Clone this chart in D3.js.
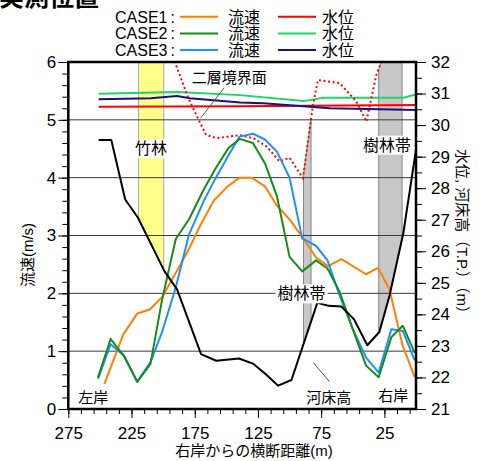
<!DOCTYPE html>
<html>
<head>
<meta charset="utf-8">
<script src="https://cdn.jsdelivr.net/npm/d3@7"></script>
<style>
  body { margin: 0; background: #fff; }
  svg { display: block; }
  text { font-family: "Liberation Sans", "Noto Sans CJK JP", Arial, sans-serif; fill: #000; }
</style>
</head>
<body>
<svg id="chart" width="487" height="461"></svg>
<script>
// ---------- data ----------
// river bed elevation (T.P. m) along the cross section, distance from right bank (m)
const bedDist = [251, 241, 230, 220, 199, 189, 170, 158, 140, 129, 119, 109, 98.5, 78, 69, 59, 49, 38.5, 29, 21, 10, 0];
const bedElev = [29.53, 29.53, 27.64, 27.07, 25.37, 24.79, 22.74, 22.53, 22.60, 22.44, 22.11, 21.74, 21.92, 24.37, 24.27, 24.25, 23.84, 23.02, 23.44, 24.58, 26.58, 29.22];

// CASE1 velocity (m/s)
const case1Dist = [246.5, 231.5, 220.5, 210.5, 201, 190, 180, 170, 160, 149, 139.5, 130, 119.5, 110.5, 100, 89.5, 79, 69.5, 59, 39.5, 30, 21, 10.5, 1];
const case1Vel  = [0.43, 1.29, 1.65, 1.72, 1.93, 2.35, 2.75, 3.2, 3.6, 3.85, 4.0, 4.0, 3.85, 3.53, 3.28, 2.96, 2.62, 2.47, 2.59, 2.33, 2.44, 2.07, 1.09, 0.55];

// CASE2 / CASE3 velocity (m/s), same stations
const case23Dist = [251.5, 241.5, 231, 220.5, 210, 201, 190, 179.5, 168, 159, 148.5, 139.5, 129, 119.5, 110, 100, 90, 79, 70, 60.5, 50, 39.5, 29.5, 19.5, 10.5, 1];
const case2Vel = [0.55, 1.21, 0.92, 0.47, 0.78, 1.87, 2.94, 3.28, 3.79, 4.14, 4.51, 4.67, 4.60, 4.25, 3.68, 2.63, 2.38, 2.57, 2.43, 2.03, 1.38, 0.75, 0.55, 1.24, 1.44, 0.97];
const case3Vel = [0.52, 1.12, 0.92, 0.47, 0.81, 1.32, 2.10, 3.02, 3.59, 3.97, 4.38, 4.71, 4.76, 4.66, 4.45, 4.00, 2.95, 2.82, 2.57, 1.97, 1.38, 0.89, 0.63, 1.38, 1.35, 0.84];

// water levels (T.P. m)
const level1Dist = [251, 140, 0];
const level1Elev = [30.58, 30.60, 30.64];
const level2Dist = [251, 189, 139, 89, 73, 36, 10, 0];
const level2Elev = [30.99, 31.05, 30.95, 30.76, 30.87, 30.87, 30.87, 30.97];
const level3Dist = [251, 210, 189, 179, 139, 121, 68, 0];
const level3Elev = [30.82, 30.85, 30.92, 30.85, 30.72, 30.69, 30.53, 30.48];

// two-layer interface elevation (T.P. m)
const ifaceDist = [193.5, 180, 172, 166, 158, 147, 139, 129, 118, 108, 100, 89.4, 81.5, 77.5, 60.4, 47.2, 39.3, 31.4, 24.6];
const ifaceElev = [32.3, 30.85, 30.17, 29.69, 29.59, 29.64, 29.68, 29.59, 29.32, 28.85, 28.96, 28.32, 30.64, 31.43, 31.33, 30.75, 30.11, 31.59, 32.3];

// vegetation zones [from, to] (m)
const bambooZone = [219.5, 199.5];
const forestZones = [[89, 83], [29.5, 11]];

// axis ticks
const xMajorTicks = [275, 225, 175, 125, 75, 25];
const velTicks = [0, 1, 2, 3, 4, 5, 6];
const elevTicks = [21, 22, 23, 24, 25, 26, 27, 28, 29, 30, 31, 32];

const seriesNames = ["CASE1", "CASE2", "CASE3"];
const velColors = ["#ff8000", "#168c16", "#1e8fff"];
const levelColors = ["#ff0000", "#22d36b", "#14147d"];

// ---------- layout ----------
const L = 68.3, R = 416, T = 62, B = 409;
const svg = d3.select("#chart");

const x = d3.scaleLinear().domain([275, 0]).range([L, R]);
const yV = d3.scaleLinear().domain([0, 6]).range([B, T]);
const yE = d3.scaleLinear().domain([21, 32]).range([B, T]);

svg.append("defs").append("clipPath").attr("id", "plotClip")
  .append("rect").attr("x", L).attr("y", T).attr("width", R - L).attr("height", B - T);

const plot = svg.append("g").attr("clip-path", "url(#plotClip)");

// piecewise profiles for shading the vegetation zones
const bedAt = d3.scaleLinear().domain(bedDist).range(bedElev);
const ifaceAt = d3.scaleLinear().domain(ifaceDist).range(ifaceElev);
const ifaceMax = ifaceDist[0], ifaceMin = ifaceDist[ifaceDist.length - 1];

function zonePolygon(d0, d1, useIface) {
  const inside = v => v < d0 && v > d1;
  const ds = [d0, ...bedDist.filter(inside), ...(useIface ? ifaceDist.filter(inside) : []), d1]
    .sort((a, b) => b - a);
  const top = ds.map(d => {
    const e = (useIface && d <= ifaceMax && d >= ifaceMin) ? ifaceAt(d) : 33;
    return [x(d), yE(e)];
  });
  const bottom = ds.slice().reverse().map(d => [x(d), yE(bedAt(d))]);
  return top.concat(bottom);
}

plot.append("polygon")
  .attr("points", zonePolygon(bambooZone[0], bambooZone[1], false).join(" "))
  .attr("fill", "#ffff8c").attr("stroke", "#a8a8a8").attr("stroke-width", 1);

forestZones.forEach(z => {
  plot.append("polygon")
    .attr("points", zonePolygon(z[0], z[1], true).join(" "))
    .attr("fill", "#c8c8c8").attr("stroke", "#858585").attr("stroke-width", 1);
});

// horizontal grid
plot.append("g").selectAll("line").data([1, 2, 3, 4, 5]).join("line")
  .attr("x1", L).attr("x2", R)
  .attr("y1", d => yV(d)).attr("y2", d => yV(d))
  .attr("stroke", "#3a3a3a").attr("stroke-width", 1);

// lines
const lineV = (ds, vs) => d3.line().x((d, i) => x(ds[i])).y((d, i) => yV(vs[i]))(vs);
const lineE = (ds, es) => d3.line().x((d, i) => x(ds[i])).y((d, i) => yE(es[i]))(es);

const levelData = [[level1Dist, level1Elev], [level2Dist, level2Elev], [level3Dist, level3Elev]];
levelData.forEach((s, i) => {
  plot.append("path").attr("d", lineE(s[0], s[1]))
    .attr("fill", "none").attr("stroke", levelColors[i]).attr("stroke-width", 2);
});

plot.append("path").attr("d", lineE(ifaceDist, ifaceElev))
  .attr("fill", "none").attr("stroke", "#ff0000").attr("stroke-width", 2)
  .attr("stroke-dasharray", "2,2.6");

const velData = [[case1Dist, case1Vel], [case23Dist, case2Vel], [case23Dist, case3Vel]];
[0, 2, 1].forEach(i => {
  plot.append("path").attr("d", lineV(velData[i][0], velData[i][1]))
    .attr("fill", "none").attr("stroke", velColors[i]).attr("stroke-width", 2)
    .attr("stroke-linejoin", "round");
});

plot.append("path").attr("d", lineE(bedDist, bedElev))
  .attr("fill", "none").attr("stroke", "#000").attr("stroke-width", 2)
  .attr("stroke-linejoin", "round");

// annotations
const notes = svg.append("g");
function label(txt, px, py, size, boxed, anchor) {
  const g = notes.append("g");
  const t = g.append("text").attr("x", px).attr("y", py)
    .attr("text-anchor", anchor || "middle")
    .attr("font-size", size).text(txt);
  if (boxed) {
    const bb = t.node().getBBox();
    g.insert("rect", "text")
      .attr("x", bb.x - 2).attr("y", bb.y - 1)
      .attr("width", bb.width + 4).attr("height", bb.height + 2)
      .attr("fill", "#fff");
  }
}
label("竹林", x(209.5), yV(4.51) + 6, 16, true);
label("樹林帯", x(23), yV(4.57) + 6, 16, true);
label("樹林帯", x(90.5), yV(2.0) + 6, 16, true);
label("二層境界面", x(177.3), yE(31.32), 15, false, "start");
label("河床高", x(69), yV(0.21) + 6, 15, false);
label("左岸", x(255.2), yV(0.21) + 6, 15, false);
label("右岸", x(17.9), yV(0.24) + 6, 15, false);

notes.append("line")
  .attr("x1", x(151.8)).attr("y1", yE(31.18))
  .attr("x2", x(170.4)).attr("y2", yE(30.22))
  .attr("stroke", "#555").attr("stroke-width", 1);
notes.append("line")
  .attr("x1", x(81.2)).attr("y1", yE(22.47))
  .attr("x2", x(68.5)).attr("y2", yE(21.87))
  .attr("stroke", "#555").attr("stroke-width", 1);

// axes
function styleAxis(g, size) {
  g.select(".domain").remove();
  g.selectAll(".tick line").attr("stroke", "#000").attr("stroke-width", 1);
  g.selectAll(".tick text").attr("font-size", size).attr("fill", "#000");
}

svg.append("g").attr("transform", `translate(${L},0)`)
  .call(d3.axisLeft(yV).tickValues(d3.range(0, 6.001, 0.2)).tickSize(6).tickFormat(""))
  .call(g => styleAxis(g, 16));
svg.append("g").attr("transform", `translate(${L},0)`)
  .call(d3.axisLeft(yV).tickValues(velTicks).tickSize(10).tickPadding(2).tickFormat(d3.format("d")))
  .call(g => styleAxis(g, 17));

svg.append("g").attr("transform", `translate(${R},0)`)
  .call(d3.axisRight(yE).tickValues(d3.range(21, 32.001, 0.5)).tickSize(6).tickFormat(""))
  .call(g => styleAxis(g, 16));
svg.append("g").attr("transform", `translate(${R},0)`)
  .call(d3.axisRight(yE).tickValues(elevTicks).tickSize(10).tickPadding(5).tickFormat(d3.format("d")))
  .call(g => styleAxis(g, 17));

svg.append("g").attr("transform", `translate(0,${B})`)
  .call(d3.axisBottom(x).tickValues(d3.range(275, 0, -10)).tickSize(5).tickFormat(""))
  .call(g => styleAxis(g, 16));
svg.append("g").attr("transform", `translate(0,${B})`)
  .call(d3.axisBottom(x).tickValues(xMajorTicks).tickSize(9).tickPadding(9).tickFormat(d3.format("d")))
  .call(g => styleAxis(g, 17));

// frame
svg.append("rect").attr("x", L).attr("y", T).attr("width", R - L).attr("height", B - T)
  .attr("fill", "none").attr("stroke", "#000").attr("stroke-width", 2.5);

// axis titles
svg.append("text").attr("transform", "translate(27,255) rotate(-90)")
  .attr("text-anchor", "middle").attr("dominant-baseline", "central")
  .attr("font-size", 15).text("流速(m/s)");
svg.append("text").attr("transform", "translate(462,235) rotate(90)")
  .attr("text-anchor", "middle").attr("dominant-baseline", "central")
  .attr("font-size", 15).text("水位, 河床高（T.P.）（m）");
svg.append("text").attr("x", 254).attr("y", 456)
  .attr("text-anchor", "middle").attr("font-size", 15).text("右岸からの横断距離(m)");

// heading
svg.append("text").attr("x", -1).attr("y", 6)
  .attr("font-size", 25).attr("font-weight", "bold").text("実測位置");

// legend
const legend = svg.append("g");
seriesNames.forEach((name, i) => {
  const cy = 16.7 + i * 16.7;
  const t = legend.append("text").attr("x", 115).attr("y", cy + 6).attr("font-size", 16);
  t.append("tspan").text(name);
  t.append("tspan").attr("dx", 3).text(":");
  legend.append("line").attr("x1", 180).attr("x2", 218).attr("y1", cy).attr("y2", cy)
    .attr("stroke", velColors[i]).attr("stroke-width", 2);
  legend.append("text").attr("x", 228).attr("y", cy + 6).attr("font-size", 16).text("流速");
  legend.append("line").attr("x1", 278).attr("x2", 316).attr("y1", cy).attr("y2", cy)
    .attr("stroke", levelColors[i]).attr("stroke-width", 2);
  legend.append("text").attr("x", 322).attr("y", cy + 6).attr("font-size", 16).text("水位");
});
</script>
</body>
</html>
